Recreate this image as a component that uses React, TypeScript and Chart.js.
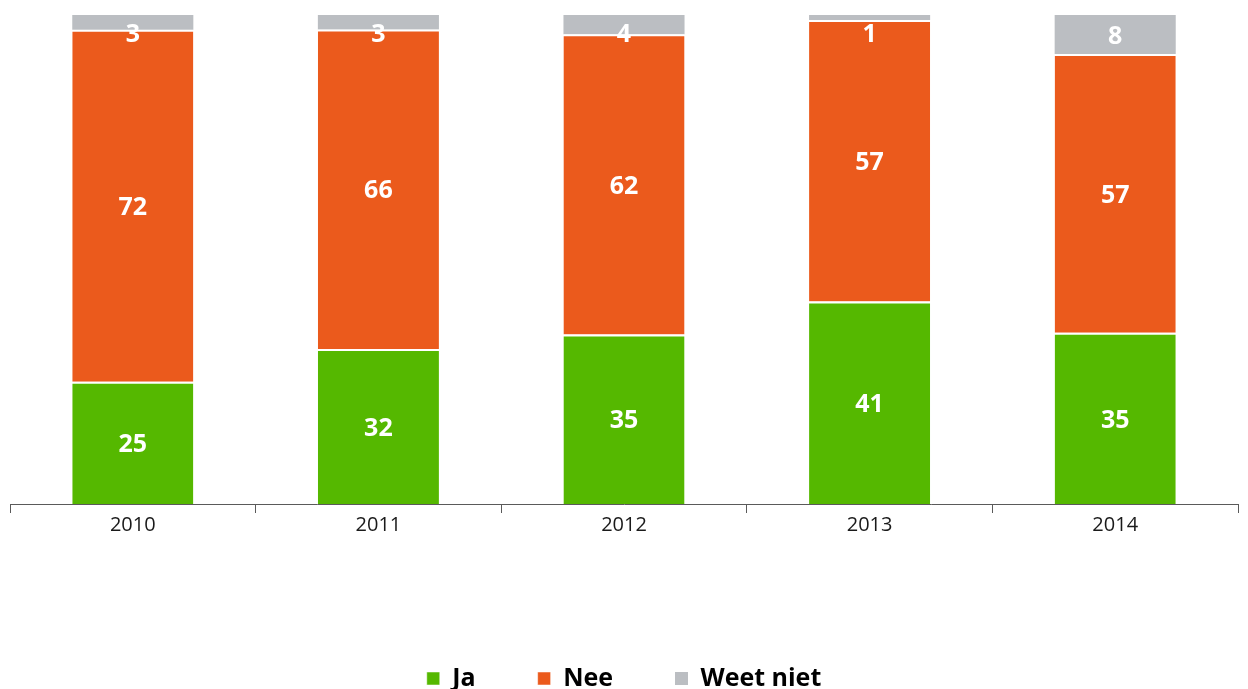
import React, { useEffect, useRef } from "react";
import { Chart, registerables } from "chart.js";

Chart.register(...registerables);

const years = ["2010", "2011", "2012", "2013", "2014"];
const ja = [25, 32, 35, 41, 35];
const nee = [72, 66, 62, 57, 57];
const weetNiet = [3, 3, 4, 1, 8];
const seriesNames = ["Ja", "Nee", "Weet niet"];
const colors = ["#55b800", "#eb5a1c", "#bbbec2"];
const FONT = "'Open Sans', 'Noto Sans', sans-serif";

const rawSeries = [ja, nee, weetNiet];
const totals = years.map((_, i) => ja[i] + nee[i] + weetNiet[i]);
const pct = (arr: number[]) => arr.map((v, i) => (v / totals[i]) * 100);

const labelPlugin = {
  id: "segLabels",
  afterDatasetsDraw(chart: any) {
    const ctx = chart.ctx;
    const top = chart.chartArea.top;
    ctx.save();
    ctx.fillStyle = "#ffffff";
    ctx.font = `bold 25px ${FONT}`;
    ctx.textAlign = "center";
    ctx.textBaseline = "middle";
    chart.data.datasets.forEach((ds: any, di: number) => {
      const meta = chart.getDatasetMeta(di);
      meta.data.forEach((bar: any, i: number) => {
        const center = (bar.y + bar.base) / 2;
        const y = Math.max(center, top + 18) + 2;
        ctx.fillText(String(rawSeries[di][i]), bar.x, y);
      });
    });
    ctx.restore();
  },
};

export default function App() {
  const ref = useRef<HTMLCanvasElement>(null);
  useEffect(() => {
    document.body.style.overflow = "hidden";
    const chart = new Chart(ref.current!, {
      type: "bar",
      data: {
        labels: years,
        datasets: rawSeries.map((arr, di) => ({
          label: seriesNames[di],
          data: pct(arr),
          backgroundColor: colors[di],
          borderColor: "#ffffff",
          borderWidth: di < 2 ? { top: 2, left: 0, right: 0, bottom: 0 } : 0,
          borderSkipped: false,
          categoryPercentage: 1,
          barPercentage: 0.493,
        })),
      },
      options: {
        animation: false,
        responsive: true,
        maintainAspectRatio: false,
        layout: { padding: { left: 2, right: 2, top: 7, bottom: 0 } },
        scales: {
          x: {
            stacked: true,
            grid: {
              offset: true,
              drawOnChartArea: false,
              drawTicks: true,
              tickLength: 9,
              color: "#5a5a5a",
            },
            border: { display: true, color: "#5a5a5a", width: 1 },
            ticks: {
              color: "#1a1a1a",
              font: { family: FONT, size: 20 },
              padding: 0,
            },
            afterFit: (scale: any) => {
              scale.height += 67;
            },
          },
          y: {
            stacked: true,
            display: false,
            min: 0,
            max: 100,
          },
        },
        plugins: {
          legend: {
            position: "bottom",
            labels: {
              boxWidth: 13,
              boxHeight: 13,
              padding: 62,
              color: "#000000",
              font: { family: FONT, size: 25, weight: "bold" },
            },
          },
          tooltip: { enabled: false },
        },
      },
      plugins: [labelPlugin],
    });
    return () => chart.destroy();
  }, []);
  return (
    <div style={{ position: "relative", width: "100%", height: 693 }}>
      <canvas ref={ref} />
    </div>
  );
}
